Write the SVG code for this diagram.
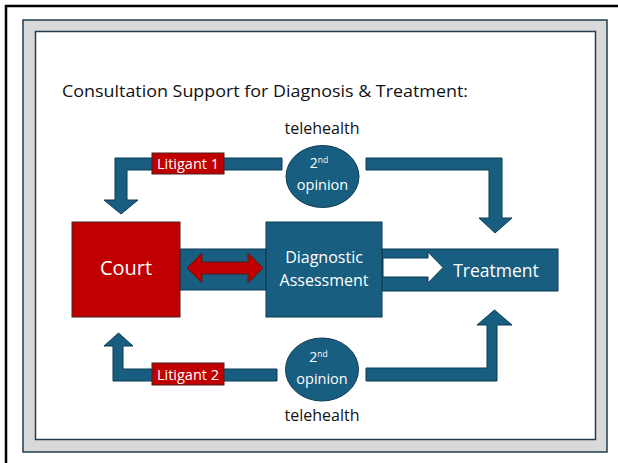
<svg xmlns="http://www.w3.org/2000/svg" width="618" height="463" viewBox="0 0 618 463">
<style>
.blue{fill:#175e80;stroke:#0d3b52;stroke-width:1}
.red{fill:#c00000;stroke:#4a1e1e;stroke-width:1}
.wt{fill:#ffffff;font-family:"Open Sans","Liberation Sans",sans-serif;text-anchor:middle}
.bt{fill:#111111;font-family:"Open Sans","Liberation Sans",sans-serif}
</style>
<rect width="618" height="463" fill="#ffffff"/>
<path d="M6 463 V6 H618" fill="none" stroke="#000000" stroke-width="2.5"/>
<rect x="23" y="20" width="584" height="432" fill="#d9d9d9" stroke="#1f3f50" stroke-width="1.5"/>
<rect x="35.5" y="31.5" width="560" height="408" fill="#ffffff" stroke="#1f3f50" stroke-width="1.5"/>
<text class="bt" x="62" y="97" font-size="16.5" textLength="406" lengthAdjust="spacingAndGlyphs">Consultation Support for Diagnosis &amp; Treatment:</text>
<g id="treatment">
<rect class="blue" x="382" y="249" width="176" height="42"/>
<text class="wt" x="496" y="277" font-size="17.5">Treatment</text>
</g>
<g id="connectors">
<path class="blue" d="M282 158 V170 H127 V200 H138 L121 214 L104 200 H115 V158 Z"/>
<path class="blue" d="M366 158 H502 V218 H512 L495 233 L479 218 H489 V170 H366 Z"/>
<path class="blue" d="M277 381 H113 V346 H104 L118.5 333 L133 346 H123 V369 H277 Z"/>
<path class="blue" d="M366 381 H497 V325 H512 L494.5 310 L477 325 H487 V368 H366 Z"/>
<rect class="blue" x="180" y="249" width="86" height="41"/>
<path class="red" d="M187 268 L202 253 V262 H248 V253 L263 268 L248 283 V274 H202 V283 Z"/>
<path fill="#ffffff" stroke="#0d3b52" stroke-width="1" d="M383 258 H428 V252 L443 267.5 L428 283 V277 H383 Z"/>
</g>
<g id="court">
<rect class="red" x="72" y="222" width="108" height="95"/>
<text class="wt" x="126" y="275" font-size="20">Court</text>
</g>
<g id="diagnostic">
<rect class="blue" x="266" y="222" width="116" height="95"/>
<text class="wt" x="324" y="263" font-size="16">Diagnostic</text>
<text class="wt" x="324" y="286" font-size="16">Assessment</text>
</g>
<g id="litigant1">
<rect class="red" x="152" y="153" width="72" height="21"/>
<text class="wt" x="188" y="169" font-size="14.5">Litigant 1</text>
</g>
<g id="litigant2">
<rect class="red" x="152" y="363" width="72" height="22"/>
<text class="wt" x="188" y="379.5" font-size="14.5">Litigant 2</text>
</g>
<g id="opinion-top">
<text class="bt" x="322" y="134" font-size="16" text-anchor="middle">telehealth</text>
<ellipse class="blue" cx="322.5" cy="176.5" rx="36.5" ry="31"/>
<text class="wt" x="319" y="168" font-size="14">2<tspan font-size="8.5" dy="-5">nd</tspan></text>
<text class="wt" x="322.5" y="190" font-size="14.5">opinion</text>
</g>
<g id="opinion-bottom">
<ellipse class="blue" cx="322" cy="369.5" rx="36.5" ry="31.5"/>
<text class="wt" x="318.5" y="362" font-size="14">2<tspan font-size="8.5" dy="-5">nd</tspan></text>
<text class="wt" x="322" y="384" font-size="14.5">opinion</text>
<text class="bt" x="322" y="421" font-size="16" text-anchor="middle">telehealth</text>
</g>
</svg>
